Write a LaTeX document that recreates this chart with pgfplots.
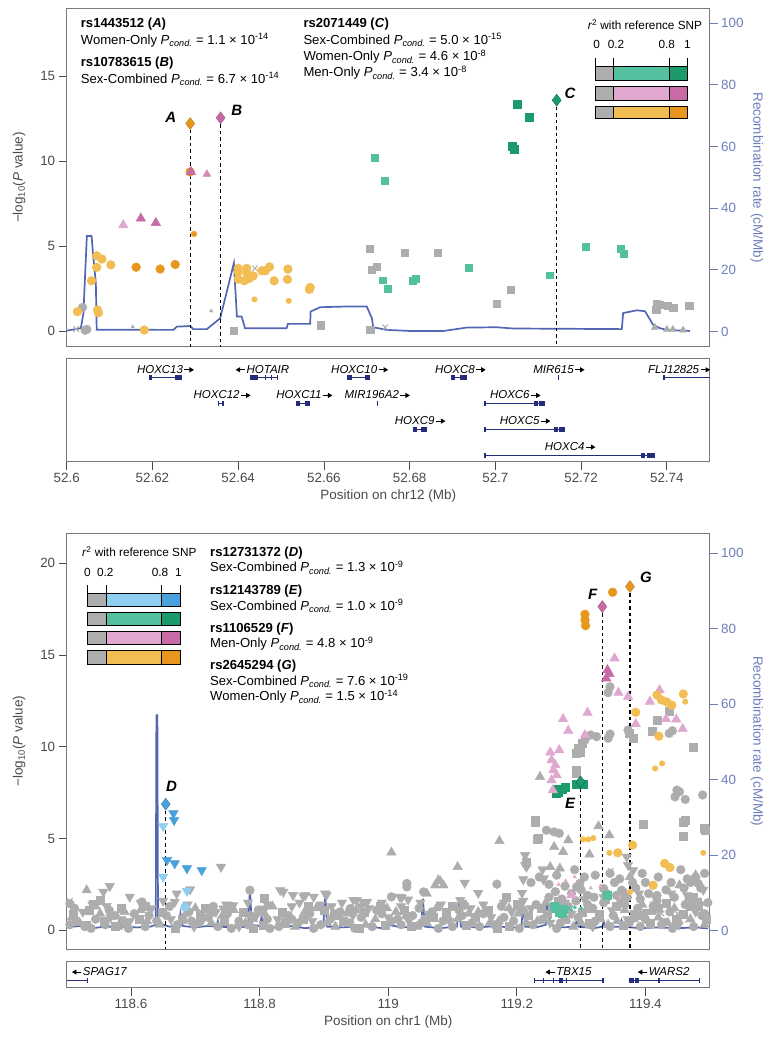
\documentclass[border=0pt]{standalone}
\usepackage{pgfplots}
\pgfplotsset{compat=1.18}
\usetikzlibrary{arrows.meta}
\usepackage{fontspec}
\setmainfont{Liberation Sans}
\definecolor{gr}{HTML}{ADADAD}
\definecolor{lgreen}{HTML}{55C09F}
\definecolor{dgreen}{HTML}{1B9A6C}
\definecolor{lpink}{HTML}{E0A7CF}
\definecolor{dpink}{HTML}{C76AA6}
\definecolor{lorange}{HTML}{F2BD52}
\definecolor{dorange}{HTML}{E8971E}
\definecolor{lblue}{HTML}{8FCEF0}
\definecolor{dblue}{HTML}{4AA0DA}
\definecolor{recomb}{HTML}{5366B3}
\definecolor{rtext}{HTML}{6D7DBA}
\definecolor{gene}{HTML}{262C7C}
\definecolor{axgray}{HTML}{7A7A7A}
\definecolor{ticktext}{HTML}{4A4A4A}
\newcommand{\Pc}{\textit{P}\textsubscript{\textit{cond.}}}
\newcommand{\ra}{\kern1pt\tikz[baseline=0pt]\draw[black, line width=0.9pt, -{Triangle[length=4.5pt,width=5pt]}] (0pt,3.4pt) -- (9.5pt,3.4pt);}
\newcommand{\la}{\tikz[baseline=0pt]\draw[black, line width=0.9pt, -{Triangle[length=4.5pt,width=5pt]}] (9.5pt,3.4pt) -- (0pt,3.4pt);\kern1pt}
\pgfplotsset{
  mainax/.style={scale only axis, width=643pt, clip=false,
     /pgf/number format/assume math mode=true,
     tick align=outside, major tick length=8pt,
     every tick label/.append style={font=\fontsize{13.4}{15}\selectfont},
     label style={font=\fontsize{13.5}{15}\selectfont}},
  C/.style={only marks, mark=*, mark size=4.4pt},
  S/.style={only marks, mark=square*, mark size=4pt},
  T/.style={only marks, mark=triangle*, mark size=5.5pt},
  V/.style={only marks, mark=triangle*, mark size=5.5pt, mark options={rotate=180}},
  D/.style={only marks, mark=diamond*, mark size=6pt},
  X/.style={only marks, mark=x, mark size=4pt, mark options={line width=1pt}},
  dash/.style={black, line width=1.1pt, dash pattern=on 3.5pt off 3pt},
}
\tikzset{glab/.style={font=\fontsize{11.5}{13}\selectfont\itshape, anchor=base}}
\newcommand{\gl}[3]{\addplot[gene, line width=1pt] coordinates {(#1,#3) (#2,#3)};}
\newcommand{\ex}[3]{\addplot[gene, line width=5pt] coordinates {(#1,#3) (#2,#3)};}
\newcommand{\lgbar}[8]{%
  \fill[gr] (#1,#5) rectangle (#2,#6);
  \fill[#7] (#2,#5) rectangle (#3,#6);
  \fill[#8] (#3,#5) rectangle (#4,#6);
  \draw (#1,#5) rectangle (#4,#6);
  \draw (#2,#5) -- (#2,#6);
  \draw (#3,#5) -- (#3,#6);}
\begin{document}
\begin{tikzpicture}
\useasboundingbox (0pt,0pt) rectangle (777pt,-1048pt);
% ================= TOP PANEL =================
\begin{axis}[mainax, at={(66.7pt,-346.7pt)}, anchor=south west, height=338.4pt,
  xmin=52.6, xmax=52.75, ymin=-4.9, ymax=104.8,
  axis x line=none, axis y line*=right, ytick={0,20,40,60,80,100},
  y axis line style={draw=axgray, line width=0.8pt},
  ytick style={rtext, line width=0.8pt}, yticklabel style={text=rtext},
  ylabel={Recombination rate (cM/Mb)}, ylabel style={text=rtext, rotate=180}]
\addplot[recomb, line width=1.7pt] coordinates {
(52.6000,0.3) (52.6033,1.1) (52.6039,6) (52.6047,31) (52.6058,31) (52.6062,24.3) (52.6068,15.7) (52.6070,0.6)
(52.6249,0.55) (52.6257,1.6) (52.6288,1.8) (52.6295,0.8) (52.6327,0.8) (52.6358,4.3) (52.6390,22.2) (52.6397,4.9)
(52.6408,4.9) (52.6416,1.1) (52.6513,1.1) (52.6516,2.5) (52.6568,2.5) (52.6569,6.5) (52.6591,7.9) (52.6645,8.1)
(52.6700,8.1) (52.6712,4.3) (52.6715,1.4) (52.6747,0.55) (52.6801,0.2) (52.6879,0.2) (52.6933,1.3) (52.7003,1.4)
(52.7042,1.0) (52.7295,0.8) (52.7298,6.0) (52.7330,6.9) (52.7349,6.6) (52.7368,2.2) (52.7384,1.1) (52.7400,0.55) (52.7454,0.2)};
\end{axis}
\begin{axis}[mainax, at={(66.7pt,-346.7pt)}, anchor=south west, height=338.4pt,
  xmin=52.6, xmax=52.75, ymin=-0.92, ymax=19.0,
  xtick=\empty, ytick={0,5,10,15}, ytick pos=left,
  axis line style={axgray, line width=0.8pt},
  ytick style={ticktext, line width=0.8pt}, yticklabel style={text=ticktext},
  ylabel={−log\textsubscript{10}(\textit{P} value)}, ylabel style={text=ticktext}, ylabel shift=8pt]
% gray
\addplot[C, gr] coordinates {(52.6037,1.39) (52.6047,0.10) (52.6043,0.05)};
\addplot[S, gr, mark size=3.6pt] coordinates {(52.6706,4.86) (52.6788,4.61) (52.6865,4.61) (52.6711,3.63) (52.6723,3.78) (52.6593,0.35) (52.6708,0.06) (52.6390,0.0) (52.7003,1.63) (52.7036,2.45) (52.7376,1.59) (52.7384,1.53) (52.7375,1.28) (52.7402,1.47) (52.7415,1.39) (52.7452,1.47)};
\addplot[T, gr, mark size=4pt] coordinates {(52.7372,0.22) (52.7400,0.10) (52.7414,0.10) (52.7438,0.06)};
\addplot[T, gr, mark size=2pt] coordinates {(52.6337,1.18) (52.6154,0.25)};
\addplot[X, gr] coordinates {(52.6022,0.12) (52.6439,3.69) (52.6743,0.22)};
% orange
\addplot[C, lorange] coordinates {(52.6070,4.43) (52.6082,4.24) (52.6103,3.90) (52.6070,3.75) (52.6058,2.96) (52.6072,1.24) (52.6074,1.08) (52.6025,1.14) (52.6181,0.06) (52.6400,3.69) (52.6420,3.69) (52.6400,3.49) (52.6420,3.43) (52.6455,3.55) (52.6463,3.55) (52.6473,3.78) (52.6516,3.65) (52.6400,3.06) (52.6414,2.96) (52.6426,3.10) (52.6435,3.25) (52.6484,2.96) (52.6515,3.04) (52.6568,2.57) (52.6566,2.45)};
\addplot[C, lorange, mark size=2.8pt] coordinates {(52.6438,1.86) (52.6518,1.78)};
\addplot[C, dorange] coordinates {(52.6162,3.76) (52.6218,3.65) (52.6253,3.92) (52.6288,9.37)};
\addplot[C, dorange, mark size=2.8pt] coordinates {(52.6297,5.72)};
% pink
\addplot[T, lpink] coordinates {(52.6132,6.24)};
\addplot[T, dpink] coordinates {(52.6173,6.63) (52.6208,6.37) (52.6290,9.37)};
\addplot[T, dpink!80, mark size=4.5pt] coordinates {(52.6327,9.24)};
% green
\addplot[S, lgreen, mark size=3.4pt] coordinates {(52.6719,10.2) (52.6742,8.86) (52.6737,3.0) (52.6748,2.51) (52.6807,2.96) (52.6815,3.1) (52.6937,3.72) (52.7127,3.29) (52.7211,4.96) (52.7293,4.86) (52.7300,4.57)};
\addplot[S, dgreen, mark size=4pt] coordinates {(52.7052,13.34) (52.7078,12.57) (52.7040,10.9) (52.7045,10.69)};
% dashed lines
\addplot[dash] coordinates {(52.6288,12.22) (52.6288,-0.92)};
\addplot[dash] coordinates {(52.6359,12.55) (52.6359,-0.92)};
\addplot[dash] coordinates {(52.7143,13.59) (52.7143,-0.92)};
% reference SNPs
\addplot[D, fill=dorange, draw=dorange!80!black] coordinates {(52.6288,12.22)};
\addplot[D, fill=dpink, draw=dpink!80!black] coordinates {(52.6359,12.55)};
\addplot[D, fill=dgreen, draw=dgreen!70!black] coordinates {(52.7143,13.59)};
\node[font=\fontsize{15}{17}\selectfont\bfseries\itshape] at (axis cs:52.6243,12.59) {A};
\node[font=\fontsize{15}{17}\selectfont\bfseries\itshape] at (axis cs:52.6397,13.0) {B};
\node[font=\fontsize{15}{17}\selectfont\bfseries\itshape] at (axis cs:52.7174,14.0) {C};
\end{axis}
% top gene track
\begin{axis}[scale only axis, width=643pt, height=103.4pt, at={(66.7pt,-461.7pt)}, anchor=south west,
  xmin=52.6, xmax=52.75, ymin=0, ymax=103.4, ytick=\empty, clip=false,
  xtick={52.6,52.62,52.64,52.66,52.68,52.7,52.72,52.74},
  xticklabels={52.6,52.62,52.64,52.66,52.68,52.7,52.72,52.74},
  xtick pos=bottom, tick align=outside, major tick length=8pt,
  axis line style={axgray, line width=0.8pt}, xtick style={ticktext, line width=0.8pt},
  xticklabel style={text=ticktext, font=\fontsize{13.4}{15}\selectfont},
  xlabel={Position on chr12 (Mb)}, xlabel style={text=ticktext, font=\fontsize{13.5}{15}\selectfont}]
% row 1 (y=84)
\gl{52.6193}{52.6268}{84} \ex{52.6193}{52.6200}{84} \ex{52.6252}{52.6268}{84}
\gl{52.6427}{52.6493}{84} \ex{52.6427}{52.6446}{84} \ex{52.6463}{52.6466}{84} \ex{52.6476}{52.6479}{84} \ex{52.6490}{52.6493}{84}
\gl{52.6655}{52.6707}{84} \ex{52.6655}{52.6666}{84} \ex{52.6697}{52.6707}{84}
\gl{52.6896}{52.6934}{84} \ex{52.6896}{52.6906}{84} \ex{52.6917}{52.6934}{84}
\ex{52.7146}{52.7149}{84}
\gl{52.7393}{52.7500}{84} \ex{52.7392}{52.7395}{84}
% row 2 (y=58.4)
\gl{52.6352}{52.6367}{58.4} \ex{52.6352}{52.6356}{58.4} \ex{52.6362}{52.6367}{58.4}
\gl{52.6535}{52.6568}{58.4} \ex{52.6535}{52.6545}{58.4} \ex{52.6555}{52.6568}{58.4}
\ex{52.6723}{52.6726}{58.4}
\gl{52.6974}{52.7115}{58.4} \ex{52.6974}{52.6977}{58.4} \ex{52.7089}{52.7099}{58.4} \ex{52.7102}{52.7115}{58.4}
% row 3 (y=32.7)
\gl{52.6807}{52.6840}{32.7} \ex{52.6807}{52.6817}{32.7} \ex{52.6827}{52.6840}{32.7}
\gl{52.6974}{52.7163}{32.7} \ex{52.6974}{52.6977}{32.7} \ex{52.7136}{52.7146}{32.7} \ex{52.7149}{52.7163}{32.7}
% row 4 (y=6.7)
\gl{52.6974}{52.7372}{6.7} \ex{52.6974}{52.6977}{6.7} \ex{52.7340}{52.7350}{6.7} \ex{52.7353}{52.7372}{6.7}
\node[glab] at (axis cs:52.6231,88.5) {HOXC13\ra};
\node[glab] at (axis cs:52.6456,88.5) {\la HOTAIR};
\node[glab] at (axis cs:52.6684,88.5) {HOXC10\ra};
\node[glab] at (axis cs:52.6919,88.5) {HOXC8\ra};
\node[glab] at (axis cs:52.7149,88.5) {MIR615\ra};
\node[glab] at (axis cs:52.7429,88.5) {FLJ12825\ra};
\node[glab] at (axis cs:52.6363,62.9) {HOXC12\ra};
\node[glab] at (axis cs:52.6555,62.9) {HOXC11\ra};
\node[glab] at (axis cs:52.6725,62.9) {MIR196A2\ra};
\node[glab] at (axis cs:52.7047,62.9) {HOXC6\ra};
\node[glab] at (axis cs:52.6825,37.2) {HOXC9\ra};
\node[glab] at (axis cs:52.7070,37.2) {HOXC5\ra};
\node[glab] at (axis cs:52.7175,11.2) {HOXC4\ra};
\end{axis}
% ================= BOTTOM PANEL =================
\begin{axis}[mainax, at={(66.7pt,-949.3pt)}, anchor=south west, height=416.3pt,
  xmin=118.5, xmax=119.5, ymin=-5.0, ymax=105.3,
  axis x line=none, axis y line*=right, ytick={0,20,40,60,80,100},
  y axis line style={draw=axgray, line width=0.8pt},
  ytick style={rtext, line width=0.8pt}, yticklabel style={text=rtext},
  ylabel={Recombination rate (cM/Mb)}, ylabel style={text=rtext, rotate=180}]
\addplot[recomb, line width=1.7pt] coordinates {
(118.500,0.8) (118.520,1.2) (118.540,0.6) (118.560,1.0) (118.578,1.0) (118.582,2.7) (118.586,1.0) (118.610,0.8)
(118.630,1.0) (118.6385,1.5) (118.6395,57) (118.6410,57) (118.6420,3) (118.650,1.5) (118.660,1.0) (118.674,1.2)
(118.677,4.5) (118.680,1.2) (118.700,0.8) (118.720,1.2) (118.733,1.0) (118.735,2.5) (118.737,1.0) (118.760,0.8)
(118.782,1.0) (118.785,11) (118.788,1.0) (118.800,1.2) (118.803,3.5) (118.806,1.0) (118.830,0.8) (118.850,1.2)
(118.870,0.6) (118.899,1.0) (118.902,9.7) (118.905,1.0) (118.930,0.8) (118.960,1.2) (118.990,0.6) (119.000,1.5)
(119.020,0.8) (119.051,1.0) (119.054,8.4) (119.057,1.0) (119.080,0.6) (119.107,1.0) (119.110,8.8) (119.113,1.0)
(119.140,0.8) (119.170,1.2) (119.190,0.6) (119.207,1.0) (119.210,6.6) (119.213,1.0) (119.230,0.8) (119.245,1.5)
(119.248,9.3) (119.251,1.5) (119.270,0.8) (119.290,1.0) (119.293,2.5) (119.296,1.0) (119.320,0.6) (119.333,1.0)
(119.335,2.5) (119.337,1.0) (119.360,1.0) (119.363,2.7) (119.366,1.0) (119.390,0.6) (119.420,0.8) (119.450,0.6)
(119.480,0.8) (119.497,0.5)};
\end{axis}
\begin{axis}[mainax, at={(66.7pt,-949.3pt)}, anchor=south west, height=416.3pt,
  xmin=118.5, xmax=119.5, ymin=-1.04, ymax=21.65,
  xtick=\empty, ytick={0,5,10,15,20}, ytick pos=left,
  axis line style={axgray, line width=0.8pt},
  ytick style={ticktext, line width=0.8pt}, yticklabel style={text=ticktext},
  ylabel={−log\textsubscript{10}(\textit{P} value)}, ylabel style={text=ticktext}, ylabel shift=8pt]
% gray band
\addplot[C, gr] coordinates {(118.505,0.3) (118.515,0.5) (118.528,0.2) (118.545,0.6) (118.560,0.3) (118.575,0.8) (118.590,0.4) (118.605,0.9) (118.622,0.2) (118.640,0.5) (118.655,0.8) (118.672,0.3) (118.690,1.0) (118.705,0.4) (118.720,0.7) (118.735,0.2) (118.750,0.9) (118.768,0.5) (118.782,0.3) (118.798,1.1) (118.812,0.6) (118.830,0.2) (118.845,0.8) (118.860,0.4) (118.878,0.9) (118.895,0.3) (118.910,0.6) (118.925,1.0) (118.940,0.4) (118.958,0.7) (118.975,0.2) (118.990,0.9) (119.005,0.5) (119.020,0.3) (119.038,0.8) (119.052,0.4) (119.068,1.0) (119.085,0.5) (119.100,0.2) (119.115,0.8) (119.130,0.4) (119.148,0.9) (119.165,0.3) (119.180,0.7) (119.195,0.5) (119.210,1.1) (119.225,0.3) (119.240,0.6) (119.255,1.2) (119.268,0.4) (119.280,1.3) (119.295,0.7) (119.310,1.4) (119.322,0.5) (119.335,1.5) (119.350,0.8) (119.362,1.6) (119.375,0.4) (119.388,1.2) (119.400,0.6) (119.412,1.3) (119.425,0.3) (119.438,1.0) (119.450,0.5) (119.462,1.4) (119.475,0.2) (119.488,0.8) (119.497,1.5)
(118.512,1.2) (118.538,0.1) (118.566,1.1) (118.596,0.1) (118.628,0.8) (118.660,1.3) (118.694,0.5) (118.728,1.3) (118.756,0.1) (118.786,0.8) (118.816,0.1) (118.850,0.6) (118.884,0.1) (118.916,0.9) (118.948,0.1) (118.982,1.1) (119.015,0.6) (119.048,1.2) (119.078,0.1) (119.110,1.1) (119.142,0.2) (119.176,1.3) (119.204,0.1) (119.230,1.4) (119.262,0.1) (119.292,1.6) (119.318,1.2) (119.345,0.2) (119.368,1.4) (119.392,0.2) (119.418,1.6) (119.442,0.1) (119.468,1.7) (119.492,0.9)};
\addplot[S, gr] coordinates {(118.510,0.9) (118.535,1.1) (118.558,0.5) (118.585,1.2) (118.612,0.6) (118.648,1.0) (118.680,0.6) (118.715,1.2) (118.745,0.5) (118.775,1.0) (118.805,0.3) (118.835,1.0) (118.868,0.6) (118.900,1.1) (118.930,0.5) (118.962,1.0) (118.995,0.3) (119.025,1.1) (119.058,0.6) (119.090,1.0) (119.122,0.3) (119.155,1.1) (119.188,0.2) (119.218,0.8) (119.248,0.9) (119.275,0.6) (119.302,1.0) (119.328,0.9) (119.355,1.3) (119.382,0.9) (119.408,0.4) (119.432,1.5) (119.458,0.9) (119.482,1.3)
(118.530,0.3) (118.575,0.2) (118.622,1.3) (118.668,0.1) (118.708,0.9) (118.752,1.3) (118.790,0.1) (118.840,0.4) (118.875,1.3) (118.920,0.8) (118.955,0.1) (118.988,1.3) (119.035,0.2) (119.070,0.7) (119.100,1.3) (119.135,0.7) (119.170,0.1) (119.200,1.4) (119.238,1.2) (119.265,1.6) (119.312,0.4) (119.338,1.7) (119.365,0.3) (119.395,0.8) (119.420,1.2) (119.448,0.6) (119.470,1.3) (119.495,0.6)};
\addplot[T, gr] coordinates {(118.520,0.4) (118.552,0.9) (118.580,0.2) (118.615,1.1) (118.645,0.3) (118.685,0.9) (118.725,0.4) (118.760,1.1) (118.790,0.6) (118.820,1.3) (118.855,0.2) (118.888,1.2) (118.918,0.2) (118.950,1.1) (118.980,0.6) (119.012,1.0) (119.045,0.2) (119.075,1.2) (119.108,0.6) (119.140,1.0) (119.172,0.5) (119.202,0.9) (119.232,0.5) (119.262,1.3) (119.288,0.2) (119.315,1.1) (119.342,0.3) (119.368,1.1) (119.395,1.4) (119.420,0.7) (119.445,1.2) (119.470,0.6) (119.492,0.3)
(118.508,0.7) (118.545,1.3) (118.590,1.0) (118.625,0.5) (118.700,1.2) (118.742,0.8) (118.778,0.4) (118.808,0.9) (118.838,0.5) (118.870,1.0) (118.905,0.4) (118.935,0.9) (118.965,0.3) (118.998,1.2) (119.028,0.8) (119.060,0.4) (119.092,0.8) (119.125,0.9) (119.158,0.4) (119.188,1.2) (119.215,0.4) (119.245,1.5) (119.300,0.4) (119.330,0.6) (119.356,0.5) (119.382,0.6) (119.410,1.0) (119.435,0.4) (119.460,0.8) (119.485,1.5)};
\addplot[V, gr] coordinates {(118.525,1.0) (118.568,0.7) (118.598,0.5) (118.632,1.2) (118.662,0.6) (118.698,0.2) (118.732,1.0) (118.768,0.2) (118.795,0.8) (118.828,0.6) (118.850,1.3) (118.882,0.5) (118.912,1.3) (118.945,0.8) (118.970,1.2) (119.000,0.7) (119.032,0.5) (119.062,0.9) (119.095,0.5) (119.128,1.2) (119.160,0.7) (119.192,1.0) (119.222,1.2) (119.252,0.4) (119.285,0.9) (119.318,0.2) (119.348,1.1) (119.372,0.6) (119.402,1.0) (119.428,0.5) (119.452,0.3) (119.478,1.0)
(118.540,1.4) (118.585,0.6) (118.615,1.5) (118.650,1.6) (118.688,1.4) (118.712,0.6) (118.748,1.4) (118.782,1.5) (118.812,1.4) (118.862,1.5) (118.895,1.4) (118.928,1.5) (118.958,1.3) (118.990,1.5) (119.020,1.3) (119.050,1.5) (119.082,1.4) (119.115,1.5) (119.148,1.4) (119.180,1.5) (119.210,1.6) (119.275,1.5) (119.305,1.7) (119.335,1.8) (119.362,1.9) (119.390,2.0) (119.415,1.8) (119.440,2.0) (119.465,1.9) (119.490,2.2)};
% gray upper
\addplot[C, gr] coordinates {(119.345,13.27) (119.342,12.95) (119.315,10.64) (119.324,10.55) (119.342,10.46) (119.345,10.69) (119.306,10.37) (119.373,10.91) (119.437,10.73) (119.442,10.87) (119.449,7.64) (119.453,7.55) (119.462,7.13) (119.446,7.27) (119.489,7.37) (119.246,5.45) (119.258,5.36) (119.266,5.28) (119.322,3.0) (119.298,2.55) (119.293,2.36) (119.363,2.18) (119.335,2.27) (119.482,2.55) (119.029,2.55) (119.029,2.36) (119.055,2.09) (119.005,1.82) (119.169,2.51) (118.785,2.18) (118.617,1.54) (118.505,1.45) (118.941,1.18) (119.119,1.36) (119.34,2.0) (119.355,1.9) (119.365,2.1) (119.372,1.8) (119.385,2.3) (119.392,1.7) (119.405,2.0) (119.418,1.9) (119.432,2.2) (119.445,1.8) (119.46,2.3) (119.47,2.6) (119.478,2.9) (119.492,3.1) (119.30,2.2) (119.31,1.9) (119.32,1.8) (119.285,2.0) (119.27,1.7) (119.26,2.1) (119.25,1.8) (119.36,2.8) (119.38,2.6) (119.40,2.6) (119.345,3.1)
(119.222,2.6) (119.235,2.9) (119.250,2.5) (119.262,3.0) (119.275,2.4) (119.290,3.3) (119.305,2.9) (119.352,2.6) (119.395,3.1) (119.420,2.9) (119.455,3.3) (119.465,2.8) (119.486,2.3) (119.440,2.6)};
\addplot[S, gr] coordinates {(119.292,9.64) (119.293,8.73) (119.301,10.19) (119.296,9.91) (119.298,9.73) (119.375,10.73) (119.381,10.46) (119.410,10.87) (119.419,11.46) (119.437,11.96) (119.475,9.97) (119.292,8.55) (119.228,6.0) (119.229,5.91) (119.233,5.0) (119.232,4.95) (119.396,5.78) (119.462,6.0) (119.459,5.91) (119.458,5.13) (119.491,5.55) (119.493,5.46) (119.215,3.73) (118.807,1.73) (118.552,1.64) (118.541,1.42) (119.184,1.82) (119.475,1.82) (119.480,1.54)};
\addplot[T, gr] coordinates {(119.236,8.36) (119.173,4.87) (119.005,4.24) (119.108,3.45) (119.081,2.67) (119.073,2.45) (119.258,4.54) (119.272,4.27) (119.280,4.91) (119.252,3.45) (119.267,3.37) (119.327,5.67) (119.313,4.13) (119.344,5.18) (119.376,2.91) (119.453,2.45) (118.531,2.18) (118.725,0.91) (119.078,2.73) (119.086,2.45) (119.060,2.0) (119.478,3.0)};
\addplot[V, gr] coordinates {(118.740,3.45) (118.567,2.40) (118.557,2.09) (118.562,1.31) (118.598,1.82) (118.671,2.0) (118.692,2.22) (118.668,1.54) (118.744,1.18) (118.759,1.36) (118.832,2.18) (118.852,1.91) (118.871,1.91) (118.884,1.82) (118.902,2.0) (118.946,1.64) (118.961,1.54) (119.018,1.82) (119.031,1.67) (119.119,2.58) (119.140,2.03) (119.213,4.09) (119.215,3.45) (119.210,2.77) (119.240,3.31) (119.241,2.77) (119.213,3.55) (119.242,2.82) (119.371,4.0) (119.373,3.55) (119.381,3.27) (119.112,1.64) (119.208,2.03) (118.837,2.09) (118.868,1.85) (118.904,1.91) (118.951,1.64) (118.967,1.54) (119.021,1.78) (118.808,1.18)};
\addplot[X, gr] coordinates {(119.412,1.42) (119.425,0.91) (119.467,0.58) (119.346,3.24) (118.505,1.6) (119.45,0.9) (119.28,0.6)};
% blue
\addplot[V, lblue] coordinates {(118.650,5.67) (118.650,2.91) (118.687,2.14)};
\addplot[C, lblue] coordinates {(118.684,1.27)};
\addplot[V, dblue] coordinates {(118.666,6.37) (118.667,6.0) (118.656,3.82) (118.668,3.64) (118.687,3.37) (118.710,3.27)};
% green
\addplot[S, lgreen] coordinates {(119.262,1.18) (119.270,0.91) (119.272,1.13) (119.266,1.0) (119.258,1.3) (119.340,1.9)};
\addplot[C, lgreen, mark size=1.8pt] coordinates {(119.28,1.2) (119.29,1.25) (119.30,1.2) (119.285,1.1)};
\addplot[S, dgreen] coordinates {(119.262,7.46) (119.270,7.68) (119.276,7.78) (119.292,7.96) (119.303,7.96) (119.261,7.69) (119.265,7.55)};
% pink
\addplot[T, lpink] coordinates {(119.352,14.82) (119.358,12.95) (119.373,12.73) (119.385,11.24) (119.407,12.46) (119.422,13.09) (119.432,11.51) (119.448,11.49) (119.458,10.97) (119.310,11.86) (119.272,11.51) (119.280,10.87) (119.306,10.64) (119.252,9.69) (119.266,9.82) (119.254,9.27) (119.257,8.73) (119.254,8.18) (119.256,7.64) (119.260,9.0) (119.262,8.45) (119.285,1.91)};
\addplot[T, lpink, mark size=2pt] coordinates {(119.276,2.7) (119.290,2.9) (119.265,2.5) (119.315,2.3) (119.330,2.4) (119.360,1.8)};
\addplot[T, dpink] coordinates {(119.341,14.18) (119.339,13.73) (119.344,13.97)};
% orange
\addplot[C, lorange] coordinates {(119.385,11.88) (119.418,12.82) (119.425,12.55) (119.433,12.44) (119.441,12.27) (119.459,12.88) (119.421,10.58) (119.380,4.64) (119.357,4.22) (119.412,2.45) (119.430,3.64) (119.438,3.42)};
\addplot[C, lorange, mark size=2.8pt] coordinates {(119.462,12.46) (119.415,8.82) (119.426,9.09) (119.344,4.22) (119.303,4.95) (119.311,4.95) (119.319,5.02) (119.490,4.22) (119.376,2.09)};
\addplot[C, dorange] coordinates {(119.306,17.22) (119.306,16.91) (119.307,16.6) (119.349,18.42)};
% dashed lines
\addplot[dash] coordinates {(118.654,6.87) (118.654,-1.04)};
\addplot[dash] coordinates {(119.299,8.09) (119.299,-1.04)};
\addplot[dash] coordinates {(119.333,17.64) (119.333,-1.04)};
\addplot[dash] coordinates {(119.376,18.73) (119.376,-1.04)};
% reference SNPs
\addplot[D, fill=dblue, draw=dblue!80!black] coordinates {(118.654,6.87)};
\addplot[D, fill=dgreen, draw=dgreen!70!black] coordinates {(119.299,8.09)};
\addplot[D, fill=dpink, draw=dpink!80!black] coordinates {(119.333,17.64)};
\addplot[D, fill=dorange, draw=dorange!80!black] coordinates {(119.376,18.73)};
\node[font=\fontsize{15}{17}\selectfont\bfseries\itshape] at (axis cs:118.663,7.86) {D};
\node[font=\fontsize{15}{17}\selectfont\bfseries\itshape] at (axis cs:119.283,6.91) {E};
\node[font=\fontsize{15}{17}\selectfont\bfseries\itshape] at (axis cs:119.318,18.28) {F};
\node[font=\fontsize{15}{17}\selectfont\bfseries\itshape] at (axis cs:119.401,19.24) {G};
\end{axis}
% bottom gene track
\begin{axis}[scale only axis, width=643pt, height=26pt, at={(66.7pt,-987.7pt)}, anchor=south west,
  xmin=118.5, xmax=119.5, ymin=0, ymax=26, ytick=\empty, clip=false,
  xtick={118.6,118.8,119,119.2,119.4},
  xticklabels={118.6,118.8,119,119.2,119.4},
  xtick pos=bottom, tick align=outside, major tick length=8pt,
  axis line style={axgray, line width=0.8pt}, xtick style={ticktext, line width=0.8pt},
  xticklabel style={text=ticktext, font=\fontsize{13.4}{15}\selectfont},
  xlabel={Position on chr1 (Mb)}, xlabel style={text=ticktext, font=\fontsize{13.5}{15}\selectfont}]
\gl{118.5}{118.532}{7} \ex{118.531}{118.533}{7}
\gl{119.228}{119.334}{7} \ex{119.227}{119.229}{7} \ex{119.241}{119.243}{7} \ex{119.256}{119.258}{7} \ex{119.266}{119.272}{7} \ex{119.276}{119.278}{7} \ex{119.333}{119.335}{7}
\gl{119.374}{119.484}{7} \ex{119.374}{119.382}{7} \ex{119.384}{119.390}{7} \ex{119.420}{119.422}{7} \ex{119.483}{119.485}{7}
\node[glab, anchor=base west] at (axis cs:118.502,12.2) {\la SPAG17};
\node[glab] at (axis cs:119.280,12.2) {\la TBX15};
\node[glab] at (axis cs:119.428,12.2) {\la WARS2};
\end{axis}
% ================= annotations =================
\begin{scope}[x=1pt, y=1pt, font=\fontsize{13.1}{16}\selectfont, every node/.style={inner sep=0pt, anchor=base west}]
\node at (80.7,-27.3) {\textbf{rs1443512 (\textit{A})}};
\node at (80.7,-44.3) {Women-Only \Pc{} = 1.1 × 10\textsuperscript{-14}};
\node at (80.7,-66.7) {\textbf{rs10783615 (\textit{B})}};
\node at (80.7,-83.3) {Sex-Combined \Pc{} = 6.7 × 10\textsuperscript{-14}};
\node at (303.3,-27.3) {\textbf{rs2071449 (\textit{C})}};
\node at (303.3,-44.3) {Sex-Combined \Pc{} = 5.0 × 10\textsuperscript{-15}};
\node at (303.3,-61) {Women-Only \Pc{} = 4.6 × 10\textsuperscript{-8}};
\node at (303.3,-76.7) {Men-Only \Pc{} = 3.4 × 10\textsuperscript{-8}};
\node at (210,-556) {\textbf{rs12731372 (\textit{D})}};
\node at (210,-571.7) {Sex-Combined \Pc{} = 1.3 × 10\textsuperscript{-9}};
\node at (210,-594) {\textbf{rs12143789 (\textit{E})}};
\node at (210,-610) {Sex-Combined \Pc{} = 1.0 × 10\textsuperscript{-9}};
\node at (210,-632.3) {\textbf{rs1106529 (\textit{F})}};
\node at (210,-647.7) {Men-Only \Pc{} = 4.8 × 10\textsuperscript{-9}};
\node at (210,-669) {\textbf{rs2645294 (\textit{G})}};
\node at (210,-685) {Sex-Combined \Pc{} = 7.6 × 10\textsuperscript{-19}};
\node at (210,-700.7) {Women-Only \Pc{} = 1.5 × 10\textsuperscript{-14}};
\end{scope}
% legends
\begin{scope}[x=1pt, y=1pt, line width=0.9pt, font=\fontsize{11.8}{13}\selectfont]
\node[anchor=base west, inner sep=0pt] at (587.3,-30) {\textit{r}\textsuperscript{2} with reference SNP};
\node[anchor=base, inner sep=0pt] at (596.7,-49) {0};
\node[anchor=base, inner sep=0pt] at (616,-49) {0.2};
\node[anchor=base, inner sep=0pt] at (666.7,-49) {0.8};
\node[anchor=base, inner sep=0pt] at (687.3,-49) {1};
\foreach \xx in {595,613.5,669,687.3} {\draw (\xx,-58.3) -- (\xx,-66);}
\lgbar{595}{613.5}{669}{687.3}{-66}{-80}{lgreen}{dgreen}
\lgbar{595}{613.5}{669}{687.3}{-86.7}{-100}{lpink}{dpink}
\lgbar{595}{613.5}{669}{687.3}{-106}{-118.3}{lorange}{dorange}
\node[anchor=base west, inner sep=0pt] at (81.7,-556.7) {\textit{r}\textsuperscript{2} with reference SNP};
\node[anchor=base, inner sep=0pt] at (87.3,-576.7) {0};
\node[anchor=base, inner sep=0pt] at (105.3,-576.7) {0.2};
\node[anchor=base, inner sep=0pt] at (160,-576.7) {0.8};
\node[anchor=base, inner sep=0pt] at (178.3,-576.7) {1};
\foreach \xx in {87.3,106,161,180} {\draw (\xx,-585) -- (\xx,-593.3);}
\lgbar{87.3}{106}{161}{180}{-593.3}{-606}{lblue}{dblue}
\lgbar{87.3}{106}{161}{180}{-612.7}{-625.3}{lgreen}{dgreen}
\lgbar{87.3}{106}{161}{180}{-631.7}{-644.7}{lpink}{dpink}
\lgbar{87.3}{106}{161}{180}{-650.7}{-664}{lorange}{dorange}
\end{scope}
\end{tikzpicture}
\end{document}
